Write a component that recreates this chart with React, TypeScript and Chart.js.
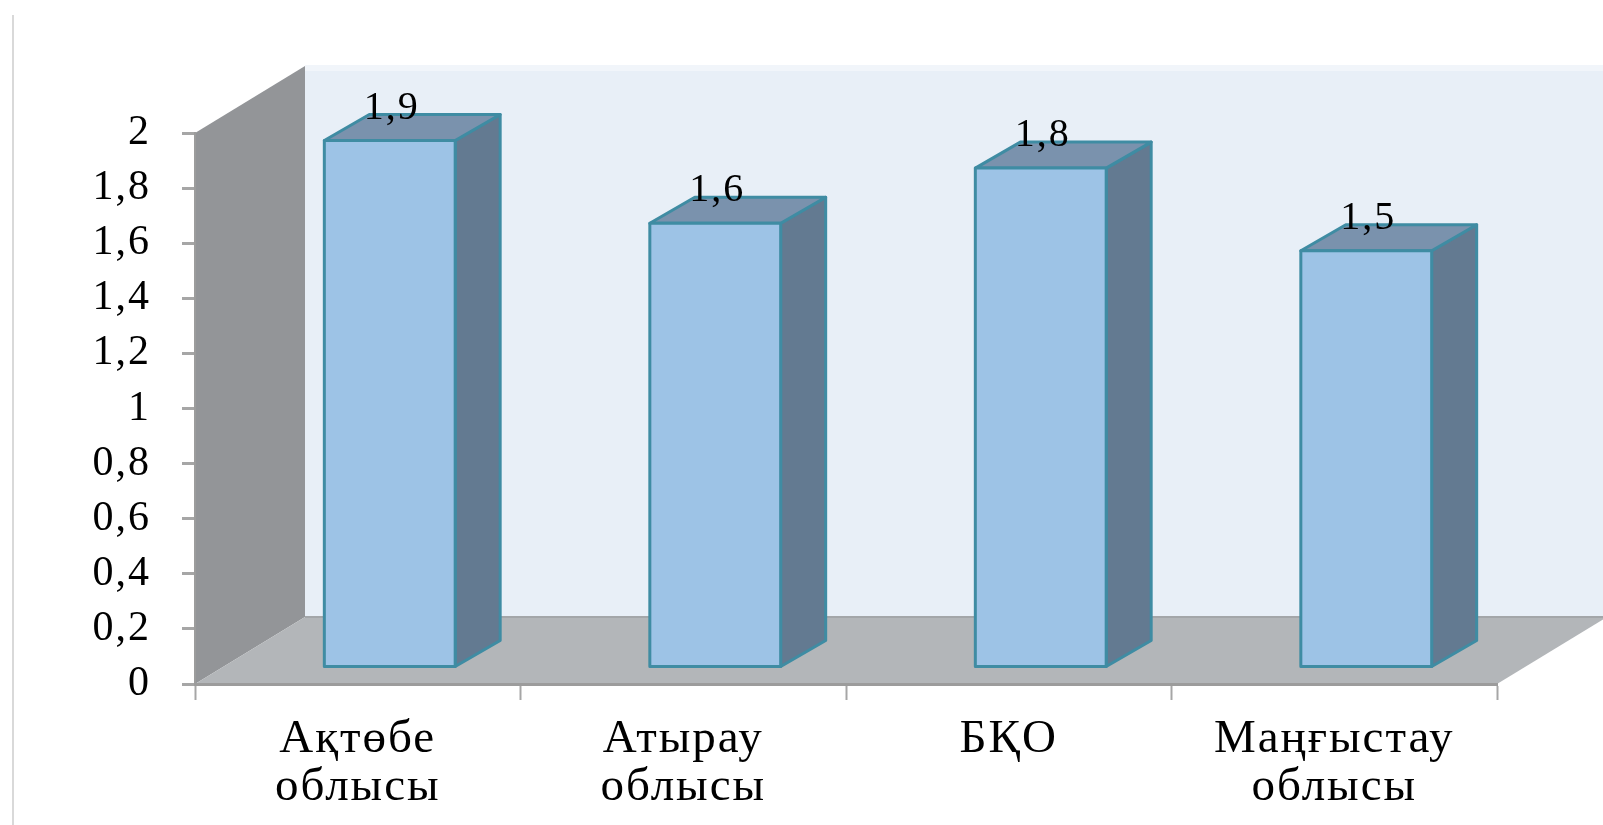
import React, { useEffect, useRef } from "react";
import { Chart, registerables } from "chart.js";

Chart.register(...registerables);

// ---- data ----
const categories: string[][] = [
  ["Ақтөбе", "облысы"],
  ["Атырау", "облысы"],
  ["БҚО"],
  ["Маңғыстау", "облысы"],
];
const values: number[] = [1.9, 1.6, 1.8, 1.5];
const valueLabels: string[] = ["1,9", "1,6", "1,8", "1,5"];
const yTickLabels: string[] = ["0", "0,2", "0,4", "0,6", "0,8", "1", "1,2", "1,4", "1,6", "1,8", "2"];

// ---- 3D styling (pixel offsets of the oblique projection) ----
const WALL = { dx: 110, dy: -67 }; // depth of floor / side wall
const BAR_SHIFT = { dx: 32, dy: -17 }; // front face of bar set back into the floor
const BAR_DEPTH = { dx: 45, dy: -26 }; // depth of each bar
const COLORS = {
  backWall: "#e8eff7",
  backWallTop: "#f1f5fa",
  sideWall: "#939598",
  floor: "#b3b6b9",
  front: "#9dc3e6",
  side: "#637a91",
  top: "#7a92ad",
  stroke: "#3f8ca3",
  frame: "#d9d9d9",
};
const FONT = "'Liberation Serif', 'Times New Roman', serif";

const poly = (ctx: CanvasRenderingContext2D, pts: number[][], fill: string, stroke?: string, lw = 0) => {
  ctx.beginPath();
  ctx.moveTo(pts[0][0], pts[0][1]);
  for (let i = 1; i < pts.length; i++) ctx.lineTo(pts[i][0], pts[i][1]);
  ctx.closePath();
  ctx.fillStyle = fill;
  ctx.fill();
  if (stroke && lw > 0) {
    ctx.strokeStyle = stroke;
    ctx.lineWidth = lw;
    ctx.lineJoin = "round";
    ctx.stroke();
  }
};

const box3dPlugin = {
  id: "box3d",
  beforeDraw(chart: any) {
    const ctx: CanvasRenderingContext2D = chart.ctx;
    (ctx as any).letterSpacing = "2px";
    const { left, right } = chart.chartArea;
    const y = chart.scales.y;
    const y0 = y.getPixelForValue(0);
    const yMax = y.getPixelForValue(y.max);
    ctx.save();
    // outer frame line
    ctx.strokeStyle = COLORS.frame;
    ctx.lineWidth = 2;
    ctx.beginPath();
    ctx.moveTo(13, 15);
    ctx.lineTo(13, chart.height);
    ctx.stroke();
    // back wall
    poly(ctx, [
      [left + WALL.dx, yMax + WALL.dy],
      [right + WALL.dx, yMax + WALL.dy],
      [right + WALL.dx, y0 + WALL.dy],
      [left + WALL.dx, y0 + WALL.dy],
    ], COLORS.backWall);
    ctx.fillStyle = COLORS.backWallTop;
    ctx.fillRect(left + WALL.dx, yMax + WALL.dy - 1, right - left, 6);
    // side wall
    poly(ctx, [
      [left, y0],
      [left, yMax],
      [left + WALL.dx, yMax + WALL.dy],
      [left + WALL.dx, y0 + WALL.dy],
    ], COLORS.sideWall);
    // floor
    poly(ctx, [
      [left, y0],
      [right, y0],
      [right + WALL.dx, y0 + WALL.dy],
      [left + WALL.dx, y0 + WALL.dy],
    ], COLORS.floor);
    // floor back edge
    ctx.strokeStyle = "#a3a6a9";
    ctx.lineWidth = 2;
    ctx.beginPath();
    ctx.moveTo(left + WALL.dx, y0 + WALL.dy);
    ctx.lineTo(right + WALL.dx, y0 + WALL.dy);
    ctx.stroke();
    ctx.restore();
  },
  afterDatasetsDraw(chart: any) {
    const ctx: CanvasRenderingContext2D = chart.ctx;
    const meta = chart.getDatasetMeta(0);
    ctx.save();
    meta.data.forEach((bar: any, i: number) => {
      const { x, y, base, width } = bar.getProps(["x", "y", "base", "width"], true);
      const l = x - width / 2 + BAR_SHIFT.dx;
      const r = x + width / 2 + BAR_SHIFT.dx;
      const t = y + BAR_SHIFT.dy - 3;
      const b = base + BAR_SHIFT.dy;
      const lw = 3;
      // side face
      poly(ctx, [
        [r, t],
        [r + BAR_DEPTH.dx, t + BAR_DEPTH.dy],
        [r + BAR_DEPTH.dx, b + BAR_DEPTH.dy],
        [r, b],
      ], COLORS.side, COLORS.stroke, lw);
      // top face
      poly(ctx, [
        [l, t],
        [l + BAR_DEPTH.dx, t + BAR_DEPTH.dy],
        [r + BAR_DEPTH.dx, t + BAR_DEPTH.dy],
        [r, t],
      ], COLORS.top, COLORS.stroke, lw);
      // front face
      poly(ctx, [
        [l, t],
        [r, t],
        [r, b],
        [l, b],
      ], COLORS.front, COLORS.stroke, lw);
      // value label
      ctx.fillStyle = "#000";
      ctx.font = `40px ${FONT}`;
      ctx.textAlign = "center";
      ctx.textBaseline = "alphabetic";
      ctx.fillText(valueLabels[i], (l + r) / 2 + 2, t - 22);
    });
    ctx.restore();
  },
};

export default function App() {
  const ref = useRef<HTMLCanvasElement>(null);
  useEffect(() => {
    const chart = new Chart(ref.current as HTMLCanvasElement, {
      type: "bar",
      data: {
        labels: categories,
        datasets: [
          {
            data: values,
            backgroundColor: "rgba(0,0,0,0)",
            borderWidth: 0,
            categoryPercentage: 1,
            barPercentage: 0.402,
          },
        ],
      },
      options: {
        responsive: false,
        animation: false,
        devicePixelRatio: 1,
        layout: { padding: { top: 133, right: 106, left: 0, bottom: 0 } },
        plugins: {
          legend: { display: false },
          tooltip: { enabled: false },
        },
        scales: {
          x: {
            afterFit: (s: any) => {
              s.height = 141;
            },
            grid: {
              offset: true,
              drawOnChartArea: false,
              drawTicks: true,
              tickLength: 16,
              tickColor: "#a6a6a6",
              tickWidth: 2,
            },
            border: { display: true, color: "#9c9c9c", width: 3 },
            ticks: {
              color: "#000",
              padding: 16,
              maxRotation: 0,
              autoSkip: false,
              font: { family: FONT, size: 47, lineHeight: 1.02 },
            },
          },
          y: {
            min: 0,
            max: 2,
            afterFit: (s: any) => {
              s.width = 195;
            },
            grid: {
              drawOnChartArea: false,
              drawTicks: true,
              tickLength: 13,
              tickColor: "#a6a6a6",
              tickWidth: 3,
            },
            border: { display: true, color: "#9c9c9c", width: 2 },
            ticks: {
              stepSize: 0.2,
              color: "#000",
              padding: 31,
              font: { family: FONT, size: 42 },
              callback: (_v: any, i: number) => yTickLabels[i],
            },
          },
        },
      },
      plugins: [box3dPlugin],
    } as any);
    return () => chart.destroy();
  }, []);
  return (
    <div style={{ position: "fixed", left: 0, top: 0, width: 1603, height: 825, background: "#fff" }}>
      <canvas ref={ref} width={1603} height={825} style={{ display: "block", width: 1603, height: 825 }} />
    </div>
  );
}
